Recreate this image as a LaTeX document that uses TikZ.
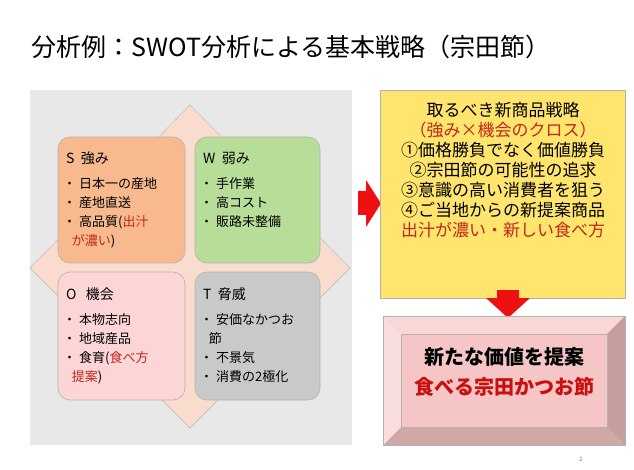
\documentclass[tikz,border=0pt]{standalone}
\usepackage{fontspec}
\setmainfont{Noto Sans CJK JP}
\definecolor{sC}{HTML}{F8B98E}
\definecolor{wC}{HTML}{B7DD98}
\definecolor{oC}{HTML}{FCD6D6}
\definecolor{tC}{HTML}{C9C9C9}
\definecolor{dia}{HTML}{F9DCCD}
\definecolor{yel}{HTML}{FFE56E}
\definecolor{pnk}{HTML}{F6C6C6}
\definecolor{redt}{HTML}{C0281A}
\definecolor{arr}{HTML}{EE1111}
\tikzset{
 swot/.style={draw=gray!60, rounded corners=12pt, line width=0.6pt},
 lbl/.style={anchor=west, font=\fontsize{14}{16}\selectfont, inner sep=0pt},
 item/.style={anchor=north west, font=\fontsize{13}{19}\selectfont, inner sep=0pt, align=left},
 big/.style={font=\fontsize{17}{20}\selectfont, inner sep=0pt, align=center}
}
\begin{document}
\begin{tikzpicture}[x=1pt,y=-1pt]
\useasboundingbox (0,0) rectangle (634,470);
\fill[white] (0,0) rectangle (634,470);
\node[font=\fontsize{25}{28}\selectfont, anchor=west] (title) at (28,47) {分析例：SWOT分析による基本戦略（宗田節）};
\fill[gray!18] (30,90) rectangle (352,445);
\draw[fill=dia, draw=gray!55] (30,268) -- (190,105) -- (350,268) -- (190,428) -- cycle;
\draw[swot, fill=sC] (58,137) rectangle (185,263);
\draw[swot, fill=wC] (195,137) rectangle (320,263);
\draw[swot, fill=oC] (58,272) rectangle (185,400);
\draw[swot, fill=tC] (195,272) rectangle (320,400);
\node[lbl] (s) at (66,158) {S\ \ 強み};
\node[lbl] (w) at (203,158) {W\ \ 弱み};
\node[lbl] (o) at (66,294) {O\ \ \ 機会};
\node[lbl] (t) at (203,294) {T\ \ 脅威};
\node[item] (si) at (63,177) {・ 日本一の産地\\・ 産地直送\\・ 高品質(\textcolor{redt}{出汁}\\\ \ \ \textcolor{redt}{が濃い})};
\node[item] (wi) at (200,177) {・ 手作業\\・ 高コスト\\・ 販路未整備};
\node[item] (oi) at (63,313) {・ 本物志向\\・ 地域産品\\・ 食育(\textcolor{redt}{食べ方}\\\ \ \ \textcolor{redt}{提案})};
\node[item] (ti) at (200,313) {・ 安価なかつお\\\ \ \ 節\\・ 不景気\\・ 消費の2極化};
\fill[arr] (358,191) -- (366,191) -- (366,180) -- (381,203.5) -- (366,227) -- (366,215) -- (358,215) -- cycle;
\draw[fill=yel, draw=gray!60] (380,90) rectangle (625,298);
\node[big, anchor=north] (strat) at (503,102) {取るべき新商品戦略\\\textcolor{redt}{（強み×機会のクロス）}\\①価格勝負でなく価値勝負\\②宗田節の可能性の追求\\③意識の高い消費者を狙う\\④ご当地からの新提案商品\\\textcolor{redt}{出汁が濃い・新しい食べ方}};
\fill[arr] (497,290) -- (519,290) -- (519,298) -- (530,298) -- (508,318) -- (486,298) -- (497,298) -- cycle;
\draw[fill=pnk, draw=gray!60] (383,316) rectangle (625,445);
\fill[pnk!70!white] (383,316) -- (625,316) -- (607,334) -- (401,334) -- cycle;
\fill[pnk!80!black] (625,316) -- (625,445) -- (607,427) -- (607,334) -- cycle;
\fill[pnk!85!black] (383,445) -- (625,445) -- (607,427) -- (401,427) -- cycle;
\fill[pnk!60!white] (383,316) -- (401,334) -- (401,427) -- (383,445) -- cycle;
\draw[draw=gray!60] (401,334) rectangle (607,427) (383,316) rectangle (625,445);
\node[font=\fontsize{20}{30}\bfseries\selectfont, align=center] (val) at (504,372) {新たな価値を提案\\\textcolor{arr!85!black}{食べる宗田かつお節}};
\node[font=\fontsize{6}{7}\selectfont, text=gray] (pg) at (581,459) {2};
\end{tikzpicture}
\end{document}
